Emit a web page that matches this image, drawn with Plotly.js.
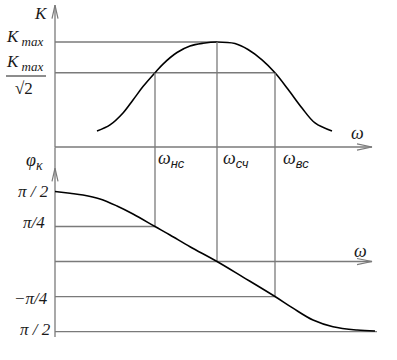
<!DOCTYPE html>
<html>
<head>
<meta charset="utf-8">
<script src="https://cdn.plot.ly/plotly-3.0.1.min.js"></script>
<style>html,body{margin:0;padding:0;background:#fff;}#chart{width:397px;height:360px;}</style>
</head>
<body>
<div id="chart"></div>
<script>
// ---- data ----
// amplitude response K(ω)
const omegaK = [0.42, 0.55, 0.68, 0.78, 0.88, 1.00, 1.08, 1.22, 1.35, 1.48, 1.62, 1.80, 1.93, 2.07, 2.20, 2.33, 2.47, 2.60, 2.77];
const gainK  = [0.152, 0.21, 0.324, 0.448, 0.575, 0.707, 0.79, 0.90, 0.962, 0.988, 1.0, 0.985, 0.928, 0.83, 0.707, 0.55, 0.371, 0.229, 0.152];
// phase response φ(ω), degrees
const omegaPhi = [0, 0.15, 0.28, 0.45, 0.62, 0.78, 1.00, 1.15, 1.35, 1.62, 1.88, 2.20, 2.38, 2.58, 2.78, 3.02, 3.20];
const phaseDeg = [90, 87.7, 85.5, 80.4, 71.4, 61.1, 45, 34.1, 19.0, 0, -20, -45, -60, -75.2, -83.8, -88.1, -89.4];
// characteristic frequencies
const omegaMarks = [1.00, 1.62, 2.20];          // ω_нс, ω_сч, ω_вс
const omegaLabels = ['нс', 'сч', 'вс'];
// amplitude levels
const kLevels = [1.0, 0.707];                    // K_max, K_max/√2
// phase levels (degrees) and their labels
const phaseLevels = [90, 45, -45, -90];
const phaseLabels = ['π / 2', 'π/4', '−π/4', 'π / 2'];

// ---- axis extents ----
const W_END = 3.17, W_END_LOW = 3.22;
const K_TOP = 1.352;
const PHI_TOP = 147, PHI_BOTTOM = -97, PHI_ARROW = 120;
const X_RANGE = [-0.55, 3.42];
const K_RANGE = [-2.0286, 1.4];
const PHI_RANGE = [-126.6, 336.2];

const kToPhi = k => PHI_RANGE[0] + (k - K_RANGE[0]) / (K_RANGE[1] - K_RANGE[0]) * (PHI_RANGE[1] - PHI_RANGE[0]);

const GRAY = '#7a7a7a';
const traces = [];
function seg(xs, ys, axis, color, width) {
  traces.push({x: xs, y: ys, yaxis: axis, type: 'scatter', mode: 'lines',
    line: {color: color || GRAY, width: width || 1.3}, hoverinfo: 'skip', showlegend: false});
}
// axes
seg([0, 0], [0, K_TOP], 'y');
seg([0, 0], [PHI_TOP, PHI_BOTTOM], 'y2');
seg([0, W_END], [0, 0], 'y');
seg([0, W_END], [0, 0], 'y2');
seg([0, W_END_LOW], [-90, -90], 'y2');
// amplitude levels
seg([0, omegaMarks[1]], [kLevels[0], kLevels[0]], 'y');
seg([0, omegaMarks[2]], [kLevels[1], kLevels[1]], 'y');
// phase levels
seg([0, omegaMarks[0]], [phaseLevels[1], phaseLevels[1]], 'y2');
seg([0, omegaMarks[2]], [phaseLevels[2], phaseLevels[2]], 'y2');
// verticals
seg([omegaMarks[0], omegaMarks[0]], [kToPhi(kLevels[1]), phaseLevels[1]], 'y2');
seg([omegaMarks[1], omegaMarks[1]], [kToPhi(kLevels[0]), 0], 'y2');
seg([omegaMarks[2], omegaMarks[2]], [kToPhi(kLevels[1]), phaseLevels[2]], 'y2');
// arrowheads
const AX = 0.03, AKY = 0.13, APY = 17, HX = 0.15, HKY = 0.03, HPY = 3.9;
seg([-AX, 0, AX], [K_TOP - AKY, K_TOP, K_TOP - AKY], 'y', GRAY, 1.2);
seg([-AX, 0, AX], [PHI_ARROW - APY, PHI_ARROW, PHI_ARROW - APY], 'y2', GRAY, 1.2);
seg([W_END - HX, W_END, W_END - HX], [HKY, 0, -HKY], 'y', GRAY, 1.2);
seg([W_END - HX, W_END, W_END - HX], [HPY, 0, -HPY], 'y2', GRAY, 1.2);
// curves
traces.push({x: omegaK, y: gainK, yaxis: 'y', type: 'scatter', mode: 'lines',
  line: {color: '#000', width: 1.6, shape: 'spline', smoothing: 1}, hoverinfo: 'skip', showlegend: false});
traces.push({x: omegaPhi, y: phaseDeg, yaxis: 'y2', type: 'scatter', mode: 'lines',
  line: {color: '#000', width: 1.6, shape: 'spline', smoothing: 1}, hoverinfo: 'skip', showlegend: false});

// ---- text ----
const SERIF = 'Liberation Serif, Times New Roman, serif';
const SANS = 'Liberation Sans, Arial, sans-serif';
const W = 397, H = 360;
const ann = [];
function txt(px, py, text, size, font, italic) {
  const body = italic === false ? text : '<span style="font-style:italic">' + text + '</span>';
  ann.push({xref: 'paper', yref: 'paper', x: px / W, y: 1 - py / H, xanchor: 'center', yanchor: 'middle',
    text: body, showarrow: false,
    font: {family: font || SERIF, size: size || 16, color: '#1a1a1a'}});
}
function sub(s, px, fam) {
  return '<sub><span style="font-size:' + px + 'px' + (fam ? ';font-family:' + fam : '') + ';font-style:italic">' + s + '</span></sub>';
}
txt(41, 14, 'K', 17);
txt(24, 38, 'K' + sub(' max', 13), 17);
txt(24, 63, 'K' + sub(' max', 13), 17);
txt(24, 88, '√2', 17, SERIF, false);
txt(357, 133, 'ω', 18);
txt(360, 251, 'ω', 18);
const omegaLabelPx = [171, 236, 296];
omegaLabels.forEach((s, i) => {
  txt(omegaLabelPx[i], 159, 'ω' + sub(s, 13, SANS), 18);
});
txt(34, 161, 'φ' + sub('κ', 14), 18);
const phaseLabelPx = [[33, 191], [34, 222], [31, 298], [35, 329]];
phaseLabels.forEach((s, i) => txt(phaseLabelPx[i][0], phaseLabelPx[i][1], s, 17));

const layout = {
  width: W, height: H,
  margin: {l: 0, r: 0, t: 0, b: 0, pad: 0},
  paper_bgcolor: '#fff', plot_bgcolor: '#fff',
  xaxis: {range: X_RANGE, visible: false, fixedrange: true},
  yaxis: {range: K_RANGE, visible: false, fixedrange: true},
  yaxis2: {range: PHI_RANGE, visible: false, overlaying: 'y', fixedrange: true},
  shapes: [{type: 'line', xref: 'paper', yref: 'paper', x0: 6 / W, x1: 46 / W, y0: 1 - 76 / H, y1: 1 - 76 / H,
    line: {color: '#1a1a1a', width: 1}}],
  annotations: ann,
  showlegend: false
};
Plotly.newPlot('chart', traces, layout, {displayModeBar: false});
</script>
</body>
</html>
